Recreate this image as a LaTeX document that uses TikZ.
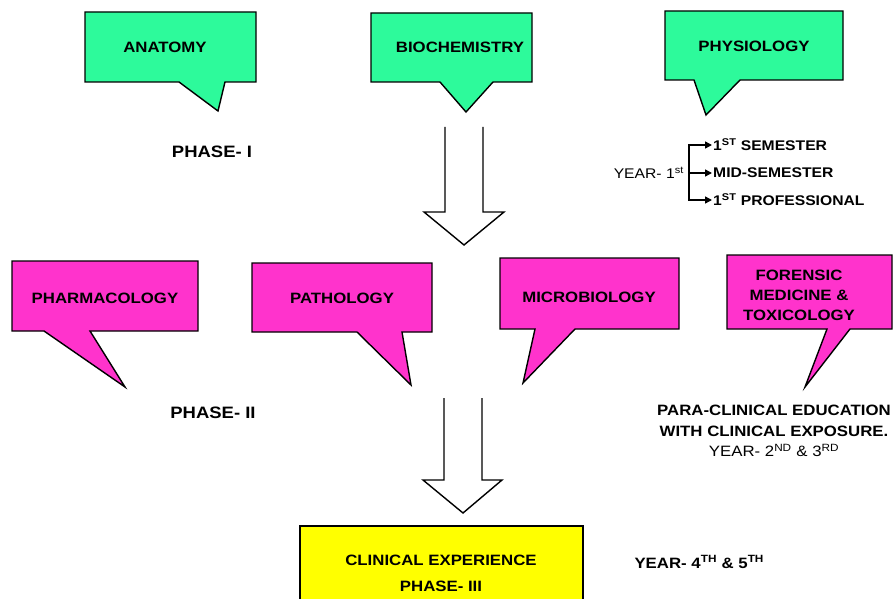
\documentclass[tikz,border=0pt]{standalone}
\usepackage{fontspec}
\setmainfont{Liberation Sans}[FakeStretch=1.12]
\usepackage{tikz}
\usetikzlibrary{arrows.meta}

\definecolor{mint}{RGB}{45,250,155}
\definecolor{rosebox}{RGB}{255,51,204}
\definecolor{clinyellow}{RGB}{255,255,0}

\begin{document}
\begin{tikzpicture}[x=1pt,y=-1pt,
		bubble/.style={draw=black, line width=1.4pt, line join=miter},
		subject/.style={font=\fontsize{15}{20}\selectfont\bfseries, align=center},
		phase/.style={font=\fontsize{16.5}{20}\selectfont\bfseries},
		yeartext/.style={font=\fontsize{14}{18}\selectfont},
		term/.style={font=\fontsize{14}{16}\selectfont\bfseries, anchor=west, inner sep=1pt},
		hollow/.style={draw=black, line width=1.4pt, fill=white, line join=miter},
		fork/.style={line width=1.4pt, -{Triangle[length=7pt,width=7pt]}}]
		
		\clip (0,0) rectangle (894,599);
		\fill[white] (0,0) rectangle (894,599);
		
		% Phase I subjects
		
		\filldraw[bubble, fill=mint] (85,12) -- (256,12) -- (256,82) -- (225,82) -- (218,111) -- (179,82) -- (85,82) -- cycle;
		\node[subject] (anatomy) at (165,47) {ANATOMY};
		
		\filldraw[bubble, fill=mint] (371,13) -- (532,13) -- (532,82) -- (493,82) -- (466,112) -- (440,82) -- (371,82) -- cycle;
		\node[subject] (biochem) at (460,47) {BIOCHEMISTRY};
		
		\filldraw[bubble, fill=mint] (665,11) -- (843,11) -- (843,80) -- (740,80) -- (706,115) -- (694,80) -- (665,80) -- cycle;
		\node[subject] (physio) at (754,46) {PHYSIOLOGY};
		
		\node[phase] (phase1) at (212,152) {PHASE- I};
		
		% Year 1 split
		
		\node[yeartext, anchor=east, inner sep=1pt] (year1) at (685,173) {YEAR- 1\textsuperscript{st}};
		\node[term] (sem1) at (712,145) {1\textsuperscript{ST} SEMESTER};
		\node[term] (midsem) at (712,173) {MID-SEMESTER};
		\node[term] (prof1) at (712,200) {1\textsuperscript{ST} PROFESSIONAL};
		
		\coordinate (split) at (689,173);
		\draw[fork] (split) |- (sem1.west);
		\draw[fork] (split) -- (midsem.west);
		\draw[fork] (split) |- (prof1.west);
		
		% Big arrow I -> II
		
		\draw[hollow] (445,127) -- (445,212) -- (424,212) -- (464,245) -- (504,212) -- (483,212) -- (483,127);
		
		% Phase II subjects
		
		\filldraw[bubble, fill=rosebox] (12,261) -- (198,261) -- (198,331) -- (90,331) -- (125,387) -- (44,331) -- (12,331) -- cycle;
		\node[subject] (pharma) at (105,298) {PHARMACOLOGY};
		
		\filldraw[bubble, fill=rosebox] (252,263) -- (432,263) -- (432,332) -- (402,332) -- (411,385) -- (357,332) -- (252,332) -- cycle;
		\node[subject] (patho) at (342,298) {PATHOLOGY};
		
		\filldraw[bubble, fill=rosebox] (500,258) -- (679,258) -- (679,329) -- (575,329) -- (523,383) -- (535,329) -- (500,329) -- cycle;
		\node[subject] (micro) at (589,297) {MICROBIOLOGY};
		
		\filldraw[bubble, fill=rosebox] (727,255) -- (892,255) -- (892,329) -- (850,329) -- (805,387) -- (827,329) -- (727,329) -- cycle;
		\node[subject] (forensic) at (799,295) {FORENSIC\\MEDICINE \&\\TOXICOLOGY};
		
		\node[phase] (phase2) at (213,413) {PHASE- II};
		
		\node[subject, font=\fontsize{15}{20.5}\selectfont] (paraclin) at (774,431) {\textbf{PARA-CLINICAL EDUCATION}\\\textbf{WITH CLINICAL EXPOSURE.}\\YEAR- 2\textsuperscript{ND} \& 3\textsuperscript{RD}};
		
		% Big arrow II -> III
		
		\draw[hollow] (444,398) -- (444,480) -- (423,480) -- (463,513) -- (502,480) -- (482,480) -- (482,398);
		
		% Phase III
		
		\draw[bubble, fill=clinyellow] (300,526) rectangle (583,610);
		\node[subject] (clinical) at (441,560) {CLINICAL EXPERIENCE};
		\node[subject] (phase3) at (441,586) {PHASE- III};
		
		\node[yeartext, font=\fontsize{15}{18}\selectfont\bfseries, anchor=west] (year45) at (631,562) {YEAR- 4\textsuperscript{TH} \& 5\textsuperscript{TH}};
		
	\end{tikzpicture}
\end{document}
